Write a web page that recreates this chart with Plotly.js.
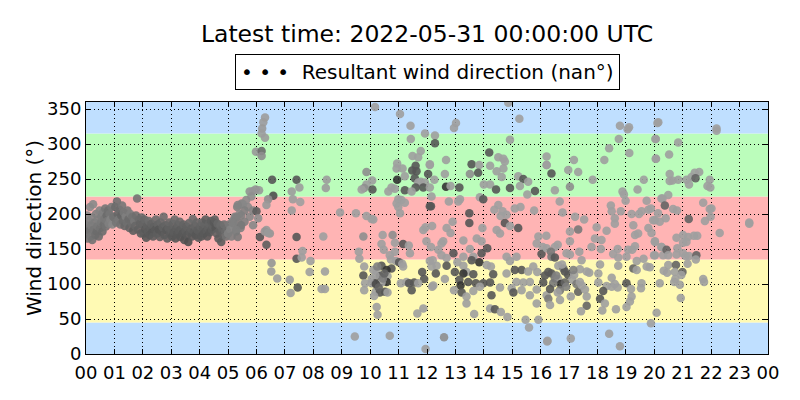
<!DOCTYPE html>
<html>
<head>
<meta charset="utf-8">
<script src="https://cdn.plot.ly/plotly-3.0.1.min.js"></script>
<style>html,body{margin:0;padding:0;background:#fff}</style>
</head>
<body>
<div id="chart" style="width:800px;height:400px"></div>
<script>
// ---- data: [hour of day, wind direction (deg), shade 0..1 (darker = higher)] ----
const titleText = 'Latest time: 2022-05-31 00:00:00 UTC';
const seriesName = 'Resultant wind direction (nan°)';
const hourTickVals = [0,1,2,3,4,5,6,7,8,9,10,11,12,13,14,15,16,17,18,19,20,21,22,23,24];
const hourTickText = ['00','01','02','03','04','05','06','07','08','09','10','11','12','13','14','15','16','17','18','19','20','21','22','23','00'];
const dirTickVals = [0,50,100,150,200,250,300,350];
// sector bands [from, to, colour]
const sectorFrom = [0,45,135,225,315];
const sectorTo = [45,135,225,315,360];
const sectorColor = ['#bfdfff','#fffab4','#ffb4b4','#bbfdbb','#bfdfff'];

const pts00 = [
[0.00,185,.30],[0.02,172,.35],[0.04,198,.25],[0.06,165,.38],[0.08,180,.30],[0.10,190,.28],[0.12,176,.40],[0.14,210,.22],[0.16,168,.36],[0.18,184,.32],
[0.20,195,.27],[0.22,163,.40],[0.25,214,.24],[0.27,178,.38],[0.30,188,.33],[0.33,170,.42],[0.35,200,.30],[0.38,175,.45],[0.40,183,.36],[0.43,192,.30],
[0.45,168,.44],[0.48,205,.28],[0.50,180,.40],[0.53,188,.35],[0.55,196,.32],[0.58,175,.45],[0.60,202,.30],[0.63,185,.42],[0.65,193,.36],[0.68,208,.38],
[0.70,182,.40],[0.73,198,.44],[0.75,190,.35],[0.78,205,.42],[0.80,186,.30],[0.83,200,.38],[0.86,192,.28],[0.90,210,.36],[0.93,185,.25],[0.96,196,.40]
];
const pts01 = [
[1.00,195,.40],[1.03,210,.45],[1.06,188,.38],[1.09,218,.42],[1.12,200,.48],[1.15,192,.35],[1.18,206,.44],[1.21,185,.40],[1.24,198,.50],[1.27,212,.38],
[1.30,190,.45],[1.33,202,.36],[1.36,183,.48],[1.40,196,.30],[1.43,188,.42],[1.46,205,.38],[1.50,193,.46],[1.53,180,.50],[1.56,200,.32],[1.60,187,.44],
[1.63,196,.40],[1.66,176,.55],[1.70,190,.36],[1.73,183,.48],[1.76,198,.42],[1.80,222,.40],[1.83,178,.52],[1.86,192,.45],[1.90,186,.50],[1.93,172,.55],[1.96,195,.46]
];
const pts02 = [
[2.00,185,.50],[2.03,172,.55],[2.06,192,.48],[2.09,178,.58],[2.12,166,.60],[2.15,183,.52],[2.18,175,.56],[2.21,190,.45],[2.24,170,.58],[2.27,180,.54],
[2.30,186,.50],[2.33,174,.60],[2.36,168,.56],[2.40,182,.52],[2.43,177,.58],[2.46,192,.46],[2.50,172,.55],[2.53,185,.50],[2.56,178,.60],[2.60,167,.54],
[2.63,188,.48],[2.66,175,.58],[2.70,181,.52],[2.73,196,.44],[2.76,170,.56],[2.80,184,.50],[2.83,177,.58],[2.86,165,.55],[2.90,180,.52],[2.93,188,.48],[2.96,173,.56]
];
const pts03 = [
[3.00,178,.52],[3.03,168,.58],[3.06,186,.50],[3.09,174,.56],[3.12,192,.46],[3.15,165,.60],[3.18,180,.54],[3.21,171,.58],[3.24,184,.50],[3.27,176,.56],
[3.30,189,.48],[3.33,167,.60],[3.36,178,.54],[3.40,172,.58],[3.43,185,.50],[3.46,163,.62],[3.50,176,.55],[3.53,182,.52],[3.56,170,.58],[3.60,160,.65],
[3.63,187,.48],[3.66,174,.56],[3.70,179,.52],[3.73,168,.58],[3.76,193,.46],[3.80,175,.55],[3.83,183,.50],[3.86,170,.60],[3.90,188,.48],[3.93,177,.54],[3.96,166,.58]
];
const pts04 = [
[4.00,175,.55],[4.03,182,.50],[4.06,168,.58],[4.09,188,.48],[4.12,178,.54],[4.15,172,.58],[4.18,185,.50],[4.21,192,.55],[4.24,176,.56],[4.27,168,.60],
[4.30,180,.52],[4.33,186,.50],[4.36,174,.58],[4.40,190,.55],[4.43,178,.56],[4.46,183,.52],[4.50,188,.58],[4.53,192,.55],[4.56,180,.60],[4.60,172,.52],
[4.63,186,.48],[4.66,165,.56],[4.70,176,.52],[4.73,184,.46],[4.76,160,.55],[4.80,178,.48],[4.83,170,.50],[4.86,185,.42],[4.90,175,.45],[4.93,168,.40],[4.96,180,.42]
];
const pts05 = [
[5.00,172,.30],[5.04,185,.35],[5.08,178,.28],[5.12,168,.32],[5.16,190,.30],[5.20,182,.25],[5.24,196,.28],[5.28,175,.30],[5.32,210,.30],[5.36,188,.32],
[5.40,200,.25],[5.44,180,.30],[5.48,215,.28],[5.76,232,.18],[5.88,233,.15],[6.09,234,.12],[5.97,235,.15],[5.82,225,.20],[5.64,220,.22],[5.52,214,.25],
[5.34,213,.28],[5.70,210,.25],[5.58,205,.30],[5.88,205,.28],[6.00,204,.55],[5.46,198,.30],[5.76,196,.25],[6.06,194,.20],[5.28,195,.30],[5.58,189,.30],
[5.88,184,.25],[5.46,184,.35],[5.17,187,.30],[5.29,177,.30],[5.34,167,.35],[6.35,177,.12],[6.47,172,.15],[6.12,167,.60],[6.35,156,.55],[6.29,175,.15],[6.40,173,.12]
];
const pts06 = [
[6.30,338,.10],[6.24,331,.10],[6.20,322,.12],[6.18,315,.10],[6.30,309,.10],[5.98,289,.12],[6.18,290,.45],[6.18,283,.20],[6.55,249,.60],[6.59,226,.65],
[6.41,221,.20],[6.35,213,.12],[6.53,130,.15],[6.52,118,.12],[6.73,108,.10],[7.41,249,.60],[7.51,238,.10],[7.24,232,.10],[7.28,221,.10],[7.54,217,.08],
[7.24,205,.10],[7.41,167,.60],[7.62,147,.08],[7.41,136,.60],[7.59,138,.08],[7.90,133,.08],[7.87,117,.08],[7.17,106,.10],[7.45,95,.60],[7.20,87,.10]
];
const pts08 = [
[10.17,353,.08],[11.05,343,.08],[11.42,326,.08],[11.93,315,.08],[11.43,307,.08],[11.78,290,.08],[11.49,283,.08],[11.69,281,.08],[12.10,271,.08],[10.95,272,.08],
[11.60,269,.60],[11.14,265,.08],[10.93,265,.08],[9.87,260,.20],[11.48,262,.60],[11.63,261,.60],[12.04,257,.60],[11.22,254,.08],[11.57,251,.60],[10.95,249,.85],
[10.07,248,.08],[8.47,249,.10],[11.78,246,.08],[9.87,242,.08],[11.69,245,.08],[11.93,245,.08],[11.60,238,.60],[11.87,238,.60],[12.10,238,.08],[10.75,238,.08],
[10.87,236,.08],[9.79,237,.20],[8.44,237,.10],[9.70,235,.08],[10.08,235,.60],[11.22,234,.60],[10.64,232,.08],[11.46,232,.08],[12.16,225,.08],[10.99,221,.08],
[11.10,220,.08],[11.22,216,.08],[10.93,215,.08],[12.10,211,.60],[10.99,210,.08],[11.05,201,.08],[8.94,202,.08],[9.50,201,.08],[9.87,197,.08],[10.05,193,.08],
[10.11,192,.08],[11.95,181,.08],[11.87,177,.08],[12.18,183,.08],[8.35,168,.08],[9.76,168,.20],[10.44,170,.08],[10.79,170,.20],[11.98,161,.08],[10.87,159,.08],
[11.16,157,.60],[10.40,157,.08],[11.36,155,.08],[12.14,153,.08],[10.48,149,.08],[10.87,146,.08],[9.60,146,.08],[10.69,141,.08],[11.40,144,.08],[9.62,136,.08],
[10.73,135,.08],[10.91,133,.08],[12.10,133,.08],[11.02,131,.60],[11.13,129,.08],[12.16,125,.08],[9.79,125,.08],[10.40,126,.60],[10.75,122,.60],[11.16,125,.08],
[10.58,120,.85],[10.23,118,.08],[10.11,120,.08],[8.41,118,.08],[9.76,112,.60],[11.83,117,.60],[10.34,111,.60],[10.19,112,.08],[10.05,107,.08],[10.61,111,.08],
[11.90,107,.60],[10.58,103,.85],[10.17,101,.60],[10.05,101,.08],[9.82,101,.08],[10.40,102,.08],[11.08,101,.08],[11.28,103,.08],[11.55,102,.60],[11.37,101,.60],
[11.69,101,.08],[12.18,96,.08],[8.29,93,.08],[8.41,93,.08],[9.79,91,.08],[11.46,91,.60],[10.19,89,.08],[10.34,88,.60],[10.52,89,.60],[10.61,88,.08],
[10.14,83,.08],[10.23,67,.08],[10.26,56,.08],[11.87,65,.08],[11.66,58,.08],[9.46,25,.08],[10.69,26,.08],[11.95,7,.08],
[10.20,100,.70],[10.30,95,.50],[10.45,108,.30],[10.25,125,.30],[10.50,115,.50]
];
const pts12 = [
[14.86,359,.08],[15.25,336,.08],[13.02,330,.08],[12.95,323,.08],[12.28,312,.08],[14.92,306,.08],[12.28,301,.60],[14.19,288,.60],[14.51,281,.08],[14.69,279,.08],
[12.67,277,.08],[14.74,275,.08],[13.57,271,.60],[13.84,270,.08],[14.22,269,.08],[16.21,270,.08],[12.10,270,.08],[14.69,265,.08],[14.45,261,.08],[12.63,257,.08],
[13.51,257,.20],[13.80,259,.60],[14.63,253,.08],[15.21,254,.08],[15.39,250,.60],[12.26,249,.08],[15.56,246,.08],[14.00,242,.08],[14.22,242,.08],[12.67,239,.85],
[12.83,240,.08],[13.14,238,.60],[14.43,235,.60],[14.92,237,.60],[15.27,240,.08],[15.80,233,.60],[15.53,228,.08],[13.86,224,.08],[13.98,221,.60],[13.16,221,.08],
[13.10,218,.08],[12.77,218,.08],[12.14,211,.60],[14.51,213,.08],[15.29,210,.08],[15.09,208,.08],[14.37,206,.08],[14.66,204,.08],[15.77,205,.08],[13.49,201,.60],
[14.80,199,.08],[14.59,197,.08],[12.90,189,.08],[14.74,187,.60],[13.49,187,.60],[14.92,183,.08],[15.21,180,.60],[12.69,180,.08],[13.95,180,.08],[14.45,177,.08],
[12.83,173,.08],[14.57,172,.08],[15.92,168,.08],[13.75,165,.08],[12.57,161,.08],[12.51,158,.08],[13.28,162,.08],[13.92,161,.08],[15.86,158,.08],[14.12,151,.60],
[13.51,150,.08],[12.40,149,.08],[16.07,153,.08],[12.93,144,.60],[12.51,141,.08],[13.92,144,.60],[13.28,139,.08],[13.63,139,.08],[16.03,143,.60],[12.69,137,.08],
[12.20,134,.08],[14.80,139,.08],[15.15,139,.08],[14.92,133,.08],[13.84,131,.85],[13.57,134,.60],[13.07,131,.08],[12.69,126,.60],[13.28,126,.08],[12.34,126,.08],
[14.25,125,.08],[14.10,127,.08],[15.74,125,.08],[15.09,120,.60],[15.33,120,.60],[15.56,118,.08],[13.39,117,.08],[12.31,115,.60],[12.98,117,.60],[13.28,115,.85],
[14.33,114,.60],[14.80,115,.08],[15.88,117,.08],[13.63,114,.60],[12.63,107,.08],[13.14,106,.60],[13.45,103,.60],[13.72,101,.60],[13.98,101,.60],[14.22,102,.60],
[15.15,103,.08],[15.39,102,.08],[15.62,103,.08],[16.09,102,.60],[12.22,98,.08],[13.18,98,.85],[13.86,96,.08],[14.57,95,.08],[14.98,94,.08],[15.33,91,.08],
[15.86,92,.08],[12.95,91,.08],[13.63,90,.08],[15.04,88,.60],[13.22,88,.60],[14.27,84,.60],[13.39,82,.08],[16.21,84,.08],[15.62,84,.08],[13.39,72,.08],
[15.86,72,.08],[14.22,65,.08],[14.39,64,.60],[14.60,60,.08],[13.66,57,.08],[14.83,53,.08],[15.47,49,.08],[15.92,49,.08],[15.59,38,.08],[12.60,24,.20],[16.23,18,.08]
];
const pts16 = [
[18.79,326,.08],[19.11,324,.08],[19.06,321,.08],[20.14,331,.08],[18.75,307,.08],[20.04,307,.08],[18.41,294,.08],[19.12,287,.08],[16.21,282,.08],[17.17,277,.08],
[18.24,277,.08],[20.06,279,.08],[16.21,270,.08],[16.38,258,.60],[16.97,263,.08],[17.32,260,.08],[17.83,249,.08],[19.63,249,.08],[19.41,235,.08],[17.03,239,.20],
[16.50,234,.08],[18.88,232,.08],[18.93,228,.08],[18.99,219,.08],[16.67,218,.08],[19.73,219,.08],[18.47,212,.08],[20.25,222,.08],[19.55,204,.08],[19.79,206,.08],
[19.88,208,.08],[18.50,204,.08],[18.82,204,.08],[19.20,200,.08],[19.46,200,.08],[16.77,202,.08],[17.21,196,.08],[17.53,192,.08],[18.61,194,.08],[20.02,191,.08],
[18.61,186,.08],[19.26,184,.08],[17.97,181,.08],[19.79,180,.08],[17.03,175,.08],[17.32,178,.35],[18.32,176,.08],[16.20,169,.08],[19.32,170,.08],[19.43,172,.08],
[19.90,173,.08],[17.91,165,.08],[17.03,161,.08],[18.14,163,.08],[20.02,161,.08],[16.60,156,.08],[16.50,153,.08],[17.79,153,.08],[18.12,150,.08],[19.32,154,.08],
[20.25,153,.08],[16.21,151,.08],[19.08,149,.08],[19.22,149,.08],[18.71,150,.08],[17.36,146,.08],[16.36,146,.35],[16.91,144,.08],[17.03,142,.08],[18.55,143,.08],
[20.02,141,.08],[16.38,139,.35],[16.50,138,.60],[18.73,138,.08],[19.02,139,.08],[19.62,136,.08],[17.44,134,.08],[19.38,133,.08],[20.31,141,.08],[18.09,128,.08],
[16.62,126,.08],[18.73,126,.08],[19.73,125,.08],[19.84,124,.08],[16.80,122,.35],[19.26,122,.50],[19.38,120,.08],[17.38,121,.08],[17.62,118,.08],[17.71,116,.08],
[16.27,117,.60],[16.38,115,.60],[16.15,112,.60],[16.85,118,.60],[16.97,113,.60],[17.18,113,.08],[18.03,115,.08],[16.50,108,.35],[16.62,107,.08],[17.11,106,.08],
[18.50,109,.08],[16.71,100,.85],[16.44,101,.35],[16.85,102,.50],[17.26,100,.35],[17.38,103,.08],[18.03,102,.08],[18.32,97,.08],[18.50,96,.08],[18.61,100,.08],
[18.71,95,.08],[19.02,101,.60],[19.18,93,.08],[19.55,101,.08],[19.53,94,.08],[16.33,93,.60],[17.32,89,.50],[17.56,92,.08],[16.68,91,.35],[18.20,90,.60],
[17.06,82,.08],[17.62,82,.08],[16.27,79,.35],[16.68,77,.08],[19.20,82,.08],[18.09,79,.60],[19.14,75,.08],[16.33,70,.08],[17.62,69,.50],[18.26,72,.08],
[19.02,67,.08],[18.17,62,.08],[17.42,61,.08],[18.65,64,.08],[19.88,44,.08],[16.24,19,.08],[17.06,22,.08],[18.41,29,.08],[18.79,11,.08],
[16.55,112,.30],[16.90,96,.30],[17.15,120,.30],[16.75,128,.08],[17.45,98,.08],[16.60,88,.08]
];
const pts20 = [
[20.11,330,.08],[20.05,307,.08],[20.84,302,.08],[20.05,279,.08],[20.52,285,.08],[22.19,322,.08],[22.19,319,.08],[20.54,257,.08],[21.58,260,.08],[21.42,259,.08],
[21.31,253,.08],[21.45,251,.50],[21.13,249,.08],[20.84,249,.08],[20.64,248,.08],[20.54,247,.08],[21.22,242,.08],[21.95,249,.08],[21.87,240,.08],[21.97,238,.08],
[20.49,227,.08],[20.29,222,.08],[21.72,216,.08],[20.37,212,.50],[20.66,207,.08],[20.80,205,.08],[21.95,207,.08],[22.01,208,.08],[20.13,201,.08],[21.98,196,.08],
[20.40,194,.08],[21.21,193,.50],[21.78,190,.08],[20.19,189,.08],[19.96,191,.08],[23.34,188,.08],[23.34,186,.08],[22.30,173,.08],[21.51,169,.08],[21.39,169,.08],
[21.19,167,.08],[21.01,170,.08],[21.13,160,.08],[21.01,159,.08],[20.78,166,.08],[20.02,160,.08],[20.25,153,.08],[20.81,151,.08],[20.43,149,.50],[20.49,141,.08],
[20.78,142,.08],[21.01,144,.08],[21.10,140,.08],[21.22,140,.08],[21.48,141,.50],[21.46,135,.08],[19.99,141,.08],[20.49,127,.08],[21.17,129,.08],[20.76,127,.50],
[20.33,119,.08],[20.45,116,.08],[20.72,117,.08],[20.99,117,.50],[20.95,113,.08],[21.72,107,.08],[21.75,103,.08],[20.74,107,.08],[20.70,103,.08],[20.19,101,.08],
[20.90,99,.08],[20.93,80,.08],[20.08,59,.08]
];

// ---- build ----
const allPts = [].concat(pts00, pts01, pts02, pts03, pts04, pts05, pts06, pts08, pts12, pts16, pts20);
const xs = allPts.map(p => p[0]);
const ys = allPts.map(p => p[1]);
const cs = allPts.map(p => p[2]);

const trace = {
  type: 'scatter', mode: 'markers', name: seriesName, showlegend: false,
  x: xs, y: ys,
  marker: {
    size: 8.5, color: cs, cmin: 0, cmax: 1,
    colorscale: [[0, '#aaaaaa'], [1, '#1e1e1e']],
    showscale: false, opacity: 0.9, line: {width: 0}
  },
  hoverinfo: 'x+y'
};

const shapes = sectorFrom.map((f, i) => ({
  type: 'rect', xref: 'paper', yref: 'y', x0: 0, x1: 1, y0: f, y1: sectorTo[i],
  fillcolor: sectorColor[i], line: {width: 0}, layer: 'below'
}));

const axisCommon = {
  ticks: 'inside', ticklen: 5, tickcolor: '#000', tickwidth: 1,
  mirror: 'allticks', showline: true, linecolor: '#000', linewidth: 1,
  showgrid: true, gridcolor: '#000', griddash: '1px,3px', gridwidth: 1,
  zeroline: false, tickfont: {size: 18, color: '#000'}
};

const layout = {
  width: 800, height: 400,
  margin: {l: 86, r: 32, t: 102, b: 46},
  font: {family: 'DejaVu Sans', size: 18, color: '#000'},
  paper_bgcolor: '#ffffff', plot_bgcolor: '#ffffff',
  title: {text: titleText, font: {size: 23.5, color: '#000'}, xref: 'paper', x: 0.5, xanchor: 'center', y: 1 - 34/400, yanchor: 'middle'},
  xaxis: Object.assign({}, axisCommon, {range: [0, 24], tickvals: hourTickVals, ticktext: hourTickText, ticklabelstandoff: 2}),
  yaxis: Object.assign({}, axisCommon, {range: [0, 360], tickvals: dirTickVals,
    title: {text: 'Wind direction (°)', font: {size: 20, color: '#000'}, standoff: 0}}),
  shapes: shapes,
  annotations: [{
    xref: 'paper', yref: 'paper', x: 0.5, y: 1.119, xanchor: 'center', yanchor: 'middle',
    text: '\u2022\u00a0\u2022\u00a0\u2022\u00a0\u00a0' + seriesName,
    showarrow: false, font: {size: 20, color: '#000'},
    bordercolor: '#000', borderwidth: 1, borderpad: 5, bgcolor: '#ffffff'
  }],
  hovermode: 'closest'
};

Plotly.newPlot('chart', [trace], layout, {displayModeBar: false, staticPlot: true});
</script>
</body>
</html>
